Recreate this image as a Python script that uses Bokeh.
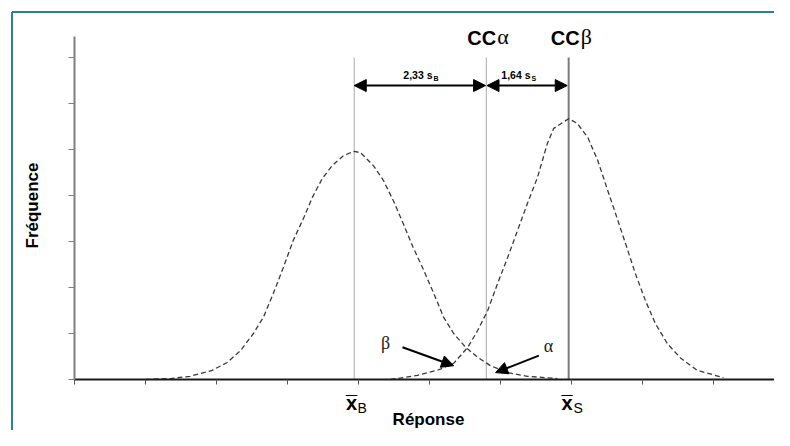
import math
from bokeh.plotting import figure
from bokeh.models import (Range1d, FixedTicker, CustomJSTickFormatter, Label,
                          Arrow, NormalHead)
from bokeh.embed import file_html
from bokeh.resources import INLINE

# ---------------- data ----------------
# blank distribution (B)
b_x = [1.00, 1.35, 1.63, 1.94, 2.15, 2.34, 2.52, 2.66, 2.80, 2.94, 3.08, 3.23,
       3.35, 3.49, 3.63, 3.79, 3.94, 4.03, 4.21, 4.35, 4.49, 4.63, 4.77, 4.92,
       5.06, 5.20, 5.34, 5.51, 5.68, 5.86, 6.10, 6.38, 6.80]
b_y = [0.00, 0.02, 0.07, 0.20, 0.37, 0.63, 1.00, 1.35, 1.87, 2.43, 3.02, 3.52,
       3.96, 4.37, 4.65, 4.87, 4.96, 4.93, 4.65, 4.33, 3.89, 3.39, 2.87, 2.37,
       1.87, 1.35, 1.00, 0.70, 0.48, 0.30, 0.15, 0.07, 0.02]
# sample distribution (S)
s_x = [4.45, 4.83, 5.11, 5.34, 5.54, 5.68, 5.82, 5.96, 6.10, 6.24, 6.38, 6.52,
       6.66, 6.75, 6.96, 7.08, 7.23, 7.37, 7.51, 7.62, 7.76, 7.90, 8.04, 8.18,
       8.35, 8.54, 8.77, 9.14]
s_y = [0.00, 0.09, 0.20, 0.35, 0.70, 1.07, 1.50, 2.09, 2.65, 3.24, 3.83, 4.39,
       5.13, 5.46, 5.67, 5.57, 5.26, 4.76, 4.11, 3.61, 2.96, 2.30, 1.72, 1.22,
       0.78, 0.46, 0.20, 0.04]

# key positions on the response axis
mean_b = 3.94      # x-bar B
cc_alpha = 5.80    # CC alpha
cc_beta = 6.96     # CC beta (= x-bar S)
line_x = [mean_b, cc_alpha, cc_beta]
line_top = [7.0, 7.0, 7.0]
line_bottom = [0.0, 0.0, 0.0]
line_colors = ["#a8a8a8", "#a8a8a8", "#7a7a7a"]
line_widths = [1.0, 1.0, 2.0]

x_ticks = [0, 1, 2, 3, 4, 5, 6, 7, 8, 9, 10]
y_ticks = [0, 1, 2, 3, 4, 5, 6, 7]

dim_y = 6.39       # height of the dimension arrows
dim_labels = ["2,33 s", "1,64 s"]
dim_subs = ["B", "S"]

SANS = "Liberation Sans"
SERIF = "Liberation Serif"
BLUE = "#2f7d9c"

# ---------------- figure ----------------
W, H = 774, 430
PX_X, PX_Y = 71.0, 46.0          # pixels per data unit
X0_PX = 74.0                     # canvas x of data x = 0
YAX_TOP = 379.0                  # canvas y (from top) of data y = 0
p = figure(width=W, height=H, output_backend="svg", toolbar_location=None,
           x_range=Range1d(-X0_PX / PX_X, (W - X0_PX) / PX_X),
           y_range=Range1d(-(H - YAX_TOP) / PX_Y, YAX_TOP / PX_Y),
           min_border_left=0, min_border_right=0, min_border_top=0,
           min_border_bottom=0)
p.outline_line_color = None
p.xgrid.visible = False
p.ygrid.visible = False
p.background_fill_color = "white"
p.border_fill_color = "white"

xa = p.xaxis[0]
xa.fixed_location = 0
xa.ticker = FixedTicker(ticks=x_ticks, minor_ticks=[])
xa.bounds = (0, 10)
xa.formatter = CustomJSTickFormatter(code="return ''")
xa.axis_line_color = "#1a1a1a"
xa.axis_line_width = 2
xa.major_tick_in = 0
xa.major_tick_out = 5
xa.major_tick_line_color = "#555555"
xa.major_tick_line_width = 1
xa.minor_tick_line_color = None

ya = p.yaxis[0]
ya.fixed_location = 0
ya.ticker = FixedTicker(ticks=y_ticks, minor_ticks=[])
ya.bounds = (0, 7.46)
ya.formatter = CustomJSTickFormatter(code="return ''")
ya.axis_line_color = "#7f7f7f"
ya.axis_line_width = 2
ya.major_tick_in = 0
ya.major_tick_out = 6
ya.major_tick_line_color = "#7f7f7f"
ya.major_tick_line_width = 1
ya.minor_tick_line_color = None

# blue frame of the original figure (top and left edges)
frame_left, frame_top = -0.88, 7.99
p.segment(x0=[frame_left, frame_left], y0=[frame_top, frame_top],
          x1=[frame_left, 11.0], y1=[-2.0, frame_top],
          line_color=BLUE, line_width=2)

# vertical reference lines
p.segment(x0=line_x, y0=line_bottom, x1=line_x, y1=line_top,
          line_color=line_colors, line_width=line_widths)

# distributions
p.line(b_x, b_y, line_dash="5 3", line_color="#3a3a3a", line_width=1.3)
p.line(s_x, s_y, line_dash="5 3", line_color="#3a3a3a", line_width=1.3)


def head(sz=12):
    return NormalHead(size=sz, fill_color="black", line_color="black", line_width=1)


# dimension arrows
p.add_layout(Arrow(x_start=mean_b, y_start=dim_y, x_end=cc_alpha - 0.01, y_end=dim_y,
                   start=head(), end=head(), line_width=2, line_color="black"))
p.add_layout(Arrow(x_start=cc_alpha + 0.01, y_start=dim_y, x_end=cc_beta - 0.02, y_end=dim_y,
                   start=head(), end=head(), line_width=2, line_color="black"))

# beta / alpha pointer arrows
p.add_layout(Arrow(x_start=4.62, y_start=0.70, x_end=5.34, y_end=0.30,
                   end=head(12), line_width=2, line_color="black"))
p.add_layout(Arrow(x_start=6.54, y_start=0.52, x_end=5.93, y_end=0.15,
                   end=head(12), line_width=2, line_color="black"))


def lab(x, y, text, size, font=SANS, style="normal", align="left",
        baseline="middle", angle=0.0, color="black"):
    p.add_layout(Label(x=x, y=y, text=text, text_font=font,
                       text_font_size=size, text_font_style=style,
                       text_align=align, text_baseline=baseline, angle=angle,
                       text_color=color))


# CC alpha / CC beta headings
lab(cc_alpha + 0.14, 7.428, "CC", "20px", style="bold", align="right")
lab(cc_alpha + 0.155, 7.46, "α", "22px", font=SERIF)
lab(cc_beta + 0.155, 7.428, "CC", "20px", style="bold", align="right")
lab(cc_beta + 0.17, 7.46, "β", "22px", font=SERIF)

# dimension texts
lab(5.042, 6.617, dim_labels[0], "10.5px", style="bold", align="right")
lab(5.056, 6.543, dim_subs[0], "7px", style="bold")
lab(6.423, 6.617, dim_labels[1], "10.5px", style="bold", align="right")
lab(6.437, 6.543, dim_subs[1], "7px", style="bold")

# alpha / beta region labels
lab(4.380, 0.804, "β", "18px", font=SERIF, align="center", color="#222222")
lab(6.676, 0.739, "α", "18px", font=SERIF, align="center", color="#222222")

# x-bar labels under the axis
for cx, sub, sx in [(3.901, "B", 3.986), (6.937, "S", 7.028)]:
    lab(cx, -0.507, "x", "20px", style="bold", align="center")
    lab(cx, -0.50, "¯", "20px", style="bold", align="center")
    lab(sx, -0.609, sub, "14px")

# axis titles
lab(-0.592, 3.783, "Fréquence", "17px", style="bold", align="center",
    angle=math.pi / 2)
lab(4.986, -0.87, "Réponse", "17px", style="bold", align="center")

open("out.html", "w").write(file_html(p, INLINE))
